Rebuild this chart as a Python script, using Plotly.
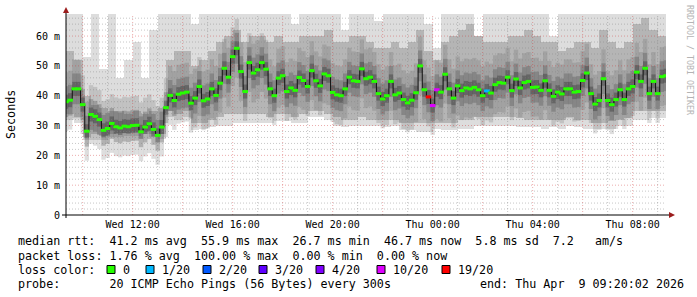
import plotly.graph_objects as go
from datetime import datetime, timedelta

# ---------------- data ----------------
start = datetime(2026, 4, 8, 9, 20)
end = datetime(2026, 4, 9, 9, 20)
median_step_min = 10
smoke_step_min = 20

# median round-trip time (ms), one value every 10 minutes
median_ms = [
    38, 38.5, 42.3, 42.3, 37, 28.1, 33.7, 33.1, 32, 28.4,
    29, 30.7, 29.6, 29.2, 29.8, 29.6, 30, 30.1, 27.9, 29.5,
    30.6, 28.7, 26.7, 29.5, 36, 40.1, 38.4, 40.5, 40.9, 41.2,
    37.5, 39.2, 43.1, 38.3, 38.9, 42.3, 40.1, 44.2, 49.2, 46.2,
    53.1, 55.9, 48.1, 41.4, 51.1, 47.6, 48.7, 51.1, 48.9, 42.3,
    40, 45.9, 46.7, 41.4, 42.6, 41.8, 46.1, 45.1, 43.1, 48.4,
    45, 43.3, 47.3, 46.7, 41.1, 40.3, 40, 42.3, 46.2, 45,
    44.8, 49, 45.7, 46.2, 44.8, 40.7, 38.9, 40, 44.8, 40.3,
    40.9, 38.7, 37.6, 38.5, 41, 50, 42, 39.6, 36.7,
    42, 41.2, 47.2, 42.3, 39.2, 43.3, 41.7, 42.6, 42.3, 42.8,
    42, 40, 41.6, 40.9, 43.7, 44.4, 44.2, 46.2, 41.7, 45.6,
    42.6, 44.4, 44.8, 42.8, 42.9, 41.8, 45, 41.8, 39.8,
    41.2, 40.6, 42.3, 42.3, 41.2, 41.4, 45.1, 47.6, 40.7, 37.2,
    38.4, 45.7, 38.4, 37, 38.7, 42, 38.7, 42.3, 43.1, 47.9,
    44.8, 49.2, 40.7, 44.8, 40.7, 46.4, 46.7,
]
# pings lost out of 20 for each median value
loss_of_20 = [0] * 87 + [19, 10, 10] + [0] * 11 + [1] + [0] * 43

# smoke (spread of the 20 pings), one slot every 20 minutes, in ms
smoke_min = [
    32, 31, 25, 25, 25, 26, 26, 26.5, 26.5, 27, 26, 25.5, 33, 32, 33,
    28.5, 29, 29.5, 30, 30, 31, 31, 31, 31, 31, 31.5, 31.5, 31, 31,
    33, 33, 32, 30, 29.5, 30, 30, 30, 30, 29.5, 30, 28.5, 28.5, 28, 28,
    29, 28.5, 28.5, 29, 29, 30, 30, 30, 30, 30, 29.5, 29.5, 29.5, 29, 29.5,
    29, 30, 29.5, 29, 29, 29, 29, 30, 30, 32, 32, 32.5, 32.5,
]
smoke_lo = [
    34, 33, 26, 27, 26.5, 27, 27.5, 27.5, 27.5, 28, 27, 27, 35, 34, 35,
    31, 31, 32, 33, 34, 34, 34, 34, 34, 33, 34, 34, 33, 34,
    35, 35, 34, 33, 32, 32, 33, 32, 32, 32, 32, 31, 31, 31, 31,
    31, 31, 31, 32, 32, 33, 33, 33, 33, 33, 32.5, 32, 32, 32, 32,
    32, 33, 32, 32, 31, 31, 31.5, 32, 32.5, 35, 35, 35, 35,
]
smoke_hi = [
    55, 52, 40, 37, 36, 35, 35, 34, 35, 34, 35, 36, 52, 55, 55,
    50, 52, 55, 58, 60, 62, 58, 60, 60, 58, 60, 58, 58, 60,
    60, 60, 62, 58, 58, 60, 60, 58, 56, 56, 58, 56, 58, 62, 55,
    52, 58, 60, 62, 64, 60, 58, 58, 58, 60, 60, 62, 60, 58, 58,
    55, 56, 58, 58, 56, 62, 58, 56, 58, 64, 66, 62, 60,
]
smoke_max = [
    67.4, 67.4, 53, 67.4, 49, 67.4, 46, 52, 58, 46, 62, 67.4, 67.4, 67.4, 67.4,
    64, 67.4, 67.4, 67.4, 67.4, 67.4, 67.4, 67.4, 67.4, 67.4, 67.4, 67.4, 64, 67.4,
    67.4, 67.4, 67.4, 67.4, 62, 67.4, 67.4, 67.4, 65, 67.4, 67.4, 67.4, 67.4, 67.4, 64,
    56, 67.4, 67.4, 67.4, 67.4, 57, 67.4, 67.4, 67.4, 67.4, 67.4, 67.4, 67.4, 67.4, 60,
    67.4, 67.4, 67.4, 67.4, 67.4, 67.4, 67.4, 67.4, 67.4, 67.4, 67.4, 67.4, 67.4,
]

x_tick_times = ["2026-04-08 12:00", "2026-04-08 16:00", "2026-04-08 20:00",
                "2026-04-09 00:00", "2026-04-09 04:00", "2026-04-09 08:00"]
x_tick_text = ["Wed 12:00", "Wed 16:00", "Wed 20:00", "Thu 00:00", "Thu 04:00", "Thu 08:00"]
y_tick_vals = [0, 10, 20, 30, 40, 50, 60]
y_tick_text = ["0", "10 m", "20 m", "30 m", "40 m", "50 m", "60 m"]
y_top = 67.4

loss_keys = [0, 1, 2, 3, 4, 10, 19]
loss_labels = ["0", "1/20", "2/20", "3/20", "4/20", "10/20", "19/20"]
loss_colors = ["#26ff00", "#00b8ff", "#0059ff", "#5e00ff", "#7e00ff", "#dd00ff", "#ff0000"]

stat_rows = [
    "median rtt:  41.2 ms avg  55.9 ms max  26.7 ms min  46.7 ms now  5.8 ms sd  7.2   am/s",
    "packet loss: 1.76 % avg  100.00 % max  0.00 % min  0.00 % now",
    "loss color:",
    "probe:       20 ICMP Echo Pings (56 Bytes) every 300s",
]
end_text = "end: Thu Apr  9 09:20:02 2026"

# ---------------- figure ----------------
MONO = "DejaVu Sans Mono"
L, R, T, B = 66, 31, 14, 82
W, H = 697, 297
PW, PH = W - L - R, H - T - B


def px(x):
    return (x - L) / PW


def py(y):
    return (T + PH - y) / PH


med_t = [start + timedelta(minutes=median_step_min * i) for i in range(len(median_ms))]
smoke_t = [start + timedelta(minutes=smoke_step_min * j + smoke_step_min / 2) for j in range(len(smoke_min))]
bar_w = smoke_step_min * 60 * 1000
col_px = PW * median_step_min / (24 * 60) + 0.15

fig = go.Figure()
fig.add_trace(go.Bar(x=smoke_t, base=smoke_min, y=[b - a for a, b in zip(smoke_min, smoke_max)],
                     width=bar_w, marker=dict(color="#dddddd", line=dict(width=0)), hoverinfo="skip"))
fig.add_trace(go.Bar(x=smoke_t, base=smoke_lo, y=[b - a for a, b in zip(smoke_lo, smoke_hi)],
                     width=bar_w, marker=dict(color="#b5b5b5", line=dict(width=0)), hoverinfo="skip"))
# darker core of the smoke, drawn as vertical columns centred on each median
for size, col in [(42, "rgba(90,90,90,0.2)"), (22, "rgba(60,60,60,0.28)"), (10, "rgba(40,40,40,0.35)")]:
    fig.add_trace(go.Scatter(x=med_t, y=median_ms, mode="markers",
                             marker=dict(symbol="line-ns", size=size, line=dict(width=col_px, color=col)),
                             hoverinfo="skip"))

# grid drawn over the smoke (as rrdtool does)
grid_dash = "1px,2px"
major_x, minor_x = [], []
t = datetime(2026, 4, 8, 10, 0)
while t < end:
    tgt = major_x if t.hour % 2 == 0 else minor_x
    tgt += [t, t, None]
    t += timedelta(hours=1)
vy_major = [0, y_top, None] * (len(major_x) // 3)
vy_minor = [0, y_top, None] * (len(minor_x) // 3)
hx_major, hy_major, hx_minor, hy_minor = [], [], [], []
for v in range(2, int(y_top) + 1, 2):
    if v % 10 == 0:
        hx_major += [start, end, None]
        hy_major += [v, v, None]
    else:
        hx_minor += [start, end, None]
        hy_minor += [v, v, None]
minor_col = "rgba(130,130,130,0.45)"
major_col = "rgba(205,40,40,0.38)"
fig.add_trace(go.Scatter(x=minor_x, y=vy_minor, mode="lines", line=dict(color=minor_col, width=1, dash=grid_dash), hoverinfo="skip"))
fig.add_trace(go.Scatter(x=hx_minor, y=hy_minor, mode="lines", line=dict(color=minor_col, width=1, dash=grid_dash), hoverinfo="skip"))
fig.add_trace(go.Scatter(x=major_x, y=vy_major, mode="lines", line=dict(color=major_col, width=1, dash=grid_dash), hoverinfo="skip"))
fig.add_trace(go.Scatter(x=hx_major, y=hy_major, mode="lines", line=dict(color=major_col, width=1, dash=grid_dash), hoverinfo="skip"))

# median line + loss-coloured marks
fig.add_trace(go.Scatter(x=med_t, y=median_ms, mode="lines", line=dict(shape="hvh", width=1, color="#111111"), hoverinfo="skip"))
color_of = dict(zip(loss_keys, loss_colors))
fig.add_trace(go.Scatter(x=med_t, y=median_ms, mode="markers",
                         marker=dict(symbol="line-ew", size=4,
                                     line=dict(width=3, color=[color_of[l] for l in loss_of_20])),
                         hoverinfo="skip"))

fig.update_layout(
    width=W, height=H, margin=dict(l=L, r=R, t=T, b=B),
    paper_bgcolor="white", plot_bgcolor="white", showlegend=False,
    barmode="overlay", bargap=0,
    font=dict(family=MONO, size=10, color="#000000"),
    xaxis=dict(type="date", range=[start, end], showgrid=False, zeroline=False, showline=False,
               tickvals=x_tick_times, ticktext=x_tick_text, ticks="", ticklabelstandoff=2,
               tickfont=dict(family=MONO, size=10, color="#000000")),
    yaxis=dict(range=[0, y_top], showgrid=False, zeroline=False, showline=False,
               tickvals=y_tick_vals, ticktext=y_tick_text, ticks="", ticklabelstandoff=5,
               tickfont=dict(family=MONO, size=10, color="#000000")),
)

shapes = []
# axes
shapes.append(dict(type="line", xref="paper", yref="paper", x0=px(62), x1=px(670), y0=py(215), y1=py(215),
                   line=dict(color="#000000", width=1)))
shapes.append(dict(type="line", xref="paper", yref="paper", x0=px(66), x1=px(66), y0=py(218), y1=py(12),
                   line=dict(color="#000000", width=1)))
arrow = "#9b1c1c"
shapes.append(dict(type="path", xref="paper", yref="paper",
                   path=f"M {px(669)} {py(212)} L {px(675)} {py(215)} L {px(669)} {py(218)} Z",
                   fillcolor=arrow, line=dict(color=arrow, width=0)))
shapes.append(dict(type="path", xref="paper", yref="paper",
                   path=f"M {px(63)} {py(13)} L {px(66)} {py(7)} L {px(69)} {py(13)} Z",
                   fillcolor=arrow, line=dict(color=arrow, width=0)))

annotations = []


def txt(s, x, y, size=11.7, color="#000000", angle=0, xanchor="left"):
    annotations.append(dict(text=s.replace(" ", "\u00a0"), x=px(x), y=py(y), xref="paper", yref="paper",
                            xanchor=xanchor, yanchor="middle", showarrow=False, textangle=angle,
                            font=dict(family=MONO, size=size, color=color)))


row_y = [241, 255.5, 269.5, 283.5]
for s, yy in zip(stat_rows, row_y):
    txt(s, 16, yy)
txt(end_text, 478, row_y[3])

box_x = [107, 146, 203, 259, 316, 377, 442]
for bx, lab, col in zip(box_x, loss_labels, loss_colors):
    shapes.append(dict(type="rect", xref="paper", yref="paper", x0=px(bx), x1=px(bx + 8),
                       y0=py(row_y[2] + 4), y1=py(row_y[2] - 4), fillcolor=col,
                       line=dict(color="#000000", width=1)))
    txt(lab, bx + 13.5, row_y[2])

txt("Seconds", 11, 115, angle=-90, xanchor="center")
txt("RRDTOOL / TOBI OETIKER", 690, 60, size=8.3, color="#b4b4b4", angle=90, xanchor="center")

fig.update_layout(shapes=shapes, annotations=annotations)
fig.write_html("out.html")
